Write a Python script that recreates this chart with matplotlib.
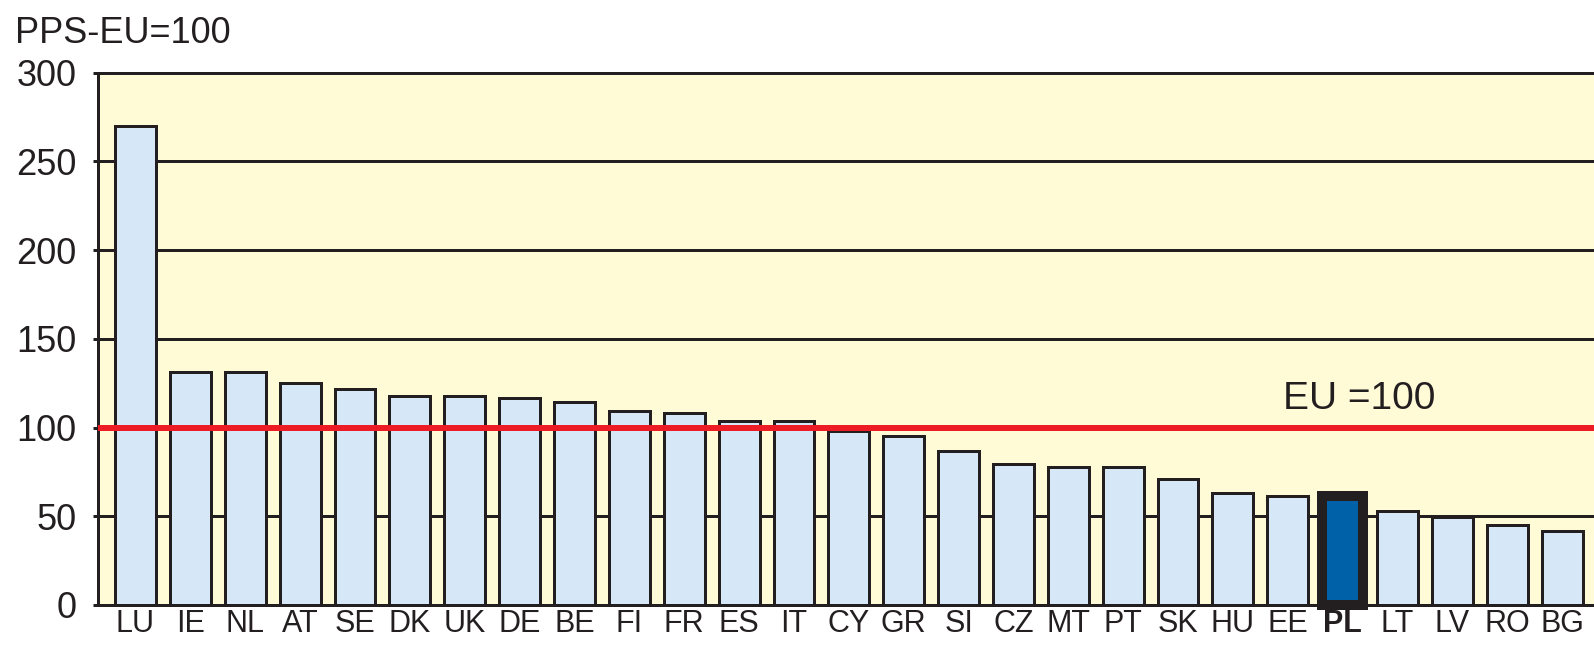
import matplotlib
matplotlib.use("Agg")
import matplotlib.pyplot as plt
from matplotlib import font_manager

countries = ["LU", "IE", "NL", "AT", "SE", "DK", "UK", "DE", "BE", "FI", "FR", "ES", "IT",
             "CY", "GR", "SI", "CZ", "MT", "PT", "SK", "HU", "EE", "PL", "LT", "LV", "RO", "BG"]
values = [270, 131, 131, 125, 121.5, 118, 118, 116.5, 114.5, 109.5, 108, 103.5, 103.5,
          98, 95, 86.5, 79.5, 78, 78, 71, 63, 61.5, 61.5, 53, 49.5, 45, 41.5]
highlight = "PL"
eu_level = 100
yticks = [0, 50, 100, 150, 200, 250, 300]

W, H = 1594, 652
dpi = 100
fig = plt.figure(figsize=(W / dpi, H / dpi), dpi=dpi)
plt.rcParams['font.family'] = ['Liberation Sans', 'DejaVu Sans']

names = {f.name for f in font_manager.fontManager.ttflist}
narrow = 'Liberation Sans Narrow' if 'Liberation Sans Narrow' in names else 'Liberation Sans'
narrow_size = 26 if narrow == 'Liberation Sans Narrow' else 22

left_px, right_px, top_px, bot_px = 98, 1600, 72.5, 605
ax = fig.add_axes([left_px / W, (H - bot_px) / H, (right_px - left_px) / W, (bot_px - top_px) / H])
ax.set_facecolor('#FFFBD7')

x = list(range(len(countries)))
step = 54.87
ax.set_xlim((left_px - 135.5) / step, (right_px - 135.5) / step)
ax.set_ylim(0, 300)

px = 72 / dpi  # points per pixel
colors = ['#0060A8' if c == highlight else '#D6E8F7' for c in countries]
lws = [10 * px if c == highlight else 3 * px for c in countries]
bars = ax.bar(x, values, width=0.745, color=colors, edgecolor='#231F20', linewidth=lws, zorder=2)
for b, c in zip(bars, countries):
    if c == highlight:
        b.set_clip_on(False)
        b.set_zorder(4)

ax.axhline(eu_level, color='#ED1C24', linewidth=6 * px, zorder=3)

ax.set_yticks(yticks)
ax.yaxis.grid(True, color='#231F20', linewidth=3 * px, zorder=0)
ax.set_axisbelow(True)
ax.set_xticks(x)
ax.set_xticklabels(countries, family=[narrow, 'DejaVu Sans'])
for lab in ax.get_xticklabels():
    if lab.get_text() == highlight:
        lab.set_fontweight('bold')

ax.tick_params(axis='y', length=5 * px, width=3 * px, color='#231F20', labelsize=26, pad=12,
               labelcolor='#231F20')
ax.tick_params(axis='x', length=0, labelsize=narrow_size, pad=3, labelcolor='#231F20')

for s in ['left', 'top', 'bottom']:
    ax.spines[s].set_linewidth(3 * px)
    ax.spines[s].set_color('#231F20')
ax.spines['right'].set_visible(False)

ax.text((1283 - 135.5) / step, (605 - 409) / 1.775, "EU =100", fontsize=28, color='#231F20',
        ha='left', va='baseline', zorder=5)
fig.text(15 / W, 1 - 43 / H, "PPS-EU=100", fontsize=26, color='#231F20', ha='left', va='baseline')

fig.savefig("out.png", dpi=dpi)
